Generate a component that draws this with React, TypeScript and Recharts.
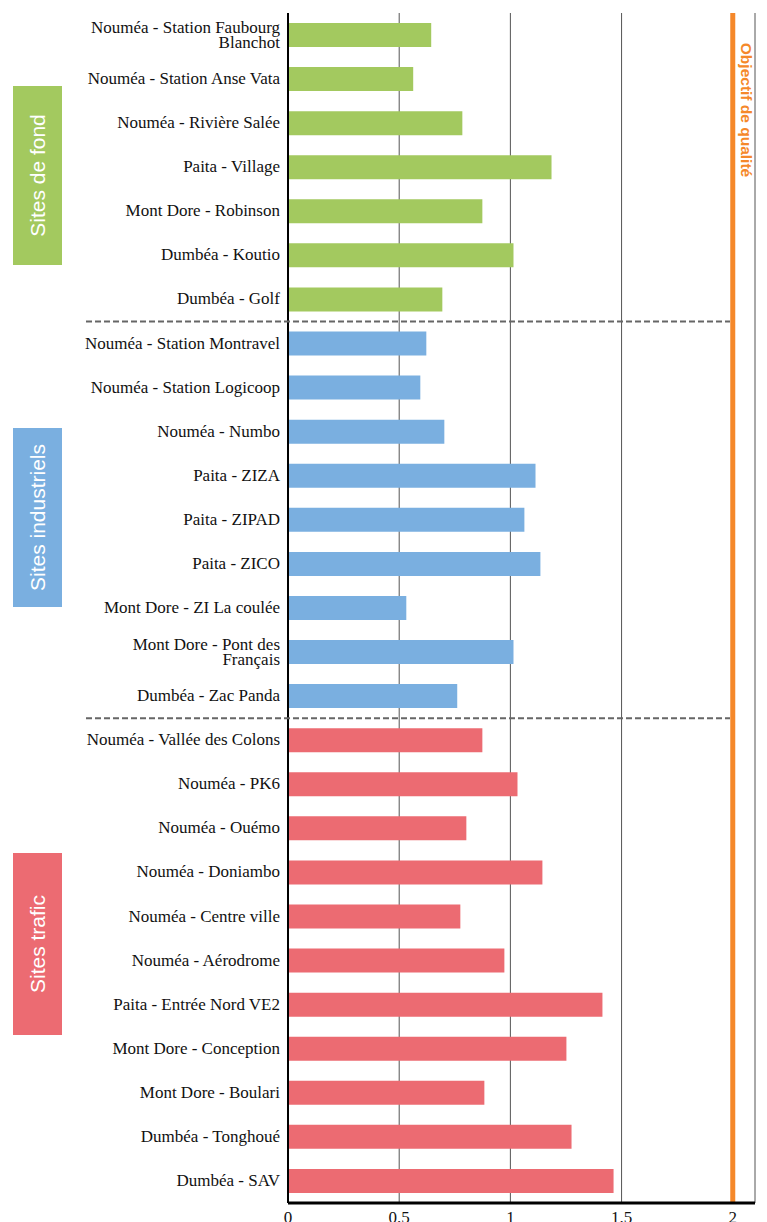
import React from "react"
import { Bar, BarChart, Cell, CartesianGrid, ReferenceLine, XAxis, YAxis } from "recharts"

const sites = [
  "Nouméa - Station Faubourg\nBlanchot",
  "Nouméa - Station Anse Vata",
  "Nouméa - Rivière Salée",
  "Paita - Village",
  "Mont Dore - Robinson",
  "Dumbéa - Koutio",
  "Dumbéa - Golf",
  "Nouméa - Station Montravel",
  "Nouméa - Station Logicoop",
  "Nouméa - Numbo",
  "Paita - ZIZA",
  "Paita - ZIPAD",
  "Paita - ZICO",
  "Mont Dore - ZI La coulée",
  "Mont Dore - Pont des\nFrançais",
  "Dumbéa - Zac Panda",
  "Nouméa - Vallée des Colons",
  "Nouméa - PK6",
  "Nouméa - Ouémo",
  "Nouméa - Doniambo",
  "Nouméa - Centre ville",
  "Nouméa - Aérodrome",
  "Paita - Entrée Nord VE2",
  "Mont Dore - Conception",
  "Mont Dore - Boulari",
  "Dumbéa - Tonghoué",
  "Dumbéa - SAV",
]

const values = [
  0.644, 0.563, 0.784, 1.185, 0.874, 1.014, 0.694,
  0.622, 0.595, 0.703, 1.113, 1.063, 1.135, 0.532, 1.014, 0.761,
  0.874, 1.032, 0.802, 1.144, 0.775, 0.973, 1.414, 1.252, 0.883, 1.275, 1.464,
]

const groups = [
  "fond", "fond", "fond", "fond", "fond", "fond", "fond",
  "industriel", "industriel", "industriel", "industriel", "industriel", "industriel", "industriel", "industriel", "industriel",
  "trafic", "trafic", "trafic", "trafic", "trafic", "trafic", "trafic", "trafic", "trafic", "trafic", "trafic",
]

const groupLabels = ["Sites de fond", "Sites industriels", "Sites trafic"]
const xTicks = [0, 0.5, 1, 1.5, 2]
const objectif = 2

const colors: Record<string, string> = {
  fond: "#a3c95f",
  industriel: "#7aafe0",
  trafic: "#ec6b72",
}

const data = sites.map((name, i) => ({ name, value: values[i], group: groups[i] }))

// layout
const W = 767
const H = 1222
const TOP = 13
const AXIS_H = 19
const Y_W = 288
const RIGHT = 12
const rowH = (H - TOP - AXIS_H) / sites.length

const CategoryTick = (props: any) => {
  const { x, y, payload } = props
  const lines = String(payload.value).split("\n")
  const lh = 15
  const start = y + 5 - ((lines.length - 1) * lh) / 2
  return (
    <text x={x} y={start} textAnchor="end" fill="#111" fontSize={17} fontFamily="'Liberation Serif', serif">
      {lines.map((l, i) => (
        <tspan key={i} x={x} y={start + i * lh}>{l}</tspan>
      ))}
    </text>
  )
}

const ObjectifLabel = (props: any) => {
  const { viewBox } = props
  const x = viewBox.x + 14
  const y = viewBox.y + 97
  return (
    <text
      x={x}
      y={y}
      transform={`rotate(90 ${x} ${y})`}
      textAnchor="middle"
      dominantBaseline="central"
      fill="#f5882a"
      fontWeight="bold"
      fontSize={15.5}
      fontFamily="'Liberation Sans', Arial, sans-serif"
    >
      Objectif de qualité
    </text>
  )
}

// group boxes on the left (annotations)
const boxes = [
  { label: groupLabels[0], color: colors.fond, y: 86, h: 179 },
  { label: groupLabels[1], color: colors.industriel, y: 428, h: 179 },
  { label: groupLabels[2], color: colors.trafic, y: 853, h: 182 },
]

// separators between groups (after row 7 and row 16)
const separators = [7, 16].map((n) => TOP + rowH * n)

export default function App() {
  return (
    <div style={{ position: "absolute", left: 0, top: 0, width: W, height: H, background: "#fff" }}>
      <BarChart
        width={W}
        height={H}
        data={data}
        layout="vertical"
        margin={{ top: TOP, right: RIGHT, left: 0, bottom: 0 }}
        barSize={24}
      >
        <CartesianGrid horizontal={false} stroke="#555" strokeWidth={1} />
        <XAxis
          type="number"
          domain={[0, 2.1]}
          ticks={xTicks}
          height={AXIS_H}
          tickLine={false}
          axisLine={{ stroke: "#000", strokeWidth: 3 }}
          tick={{ fill: "#111", fontSize: 17, fontFamily: "'Liberation Serif', serif" }}
          tickFormatter={(v) => String(v)}
          allowDataOverflow
        />
        <YAxis
          type="category"
          dataKey="name"
          width={Y_W}
          tickLine={false}
          axisLine={{ stroke: "#000", strokeWidth: 2 }}
          tick={<CategoryTick />}
          interval={0}
        />
        <Bar dataKey="value" isAnimationActive={false}>
          {data.map((d, i) => (
            <Cell key={i} fill={colors[d.group]} />
          ))}
        </Bar>
        <ReferenceLine x={objectif} stroke="#f5882a" strokeWidth={5} label={<ObjectifLabel />} />
      </BarChart>
      <svg width={W} height={H} style={{ position: "absolute", left: 0, top: 0, pointerEvents: "none" }}>
        {separators.map((y, i) => (
          <line key={i} x1={86} x2={730} y1={y} y2={y} stroke="#666" strokeWidth={2} strokeDasharray="6 3" />
        ))}
        {boxes.map((b, i) => (
          <g key={i}>
            <rect x={13} y={b.y} width={49} height={b.h} fill={b.color} />
            <text
              x={37.5}
              y={b.y + b.h / 2}
              transform={`rotate(-90 37.5 ${b.y + b.h / 2})`}
              textAnchor="middle"
              dominantBaseline="central"
              fill="#fff"
              fontSize={21}
              fontFamily="'Liberation Sans', Arial, sans-serif"
            >
              {b.label}
            </text>
          </g>
        ))}
      </svg>
    </div>
  )
}
